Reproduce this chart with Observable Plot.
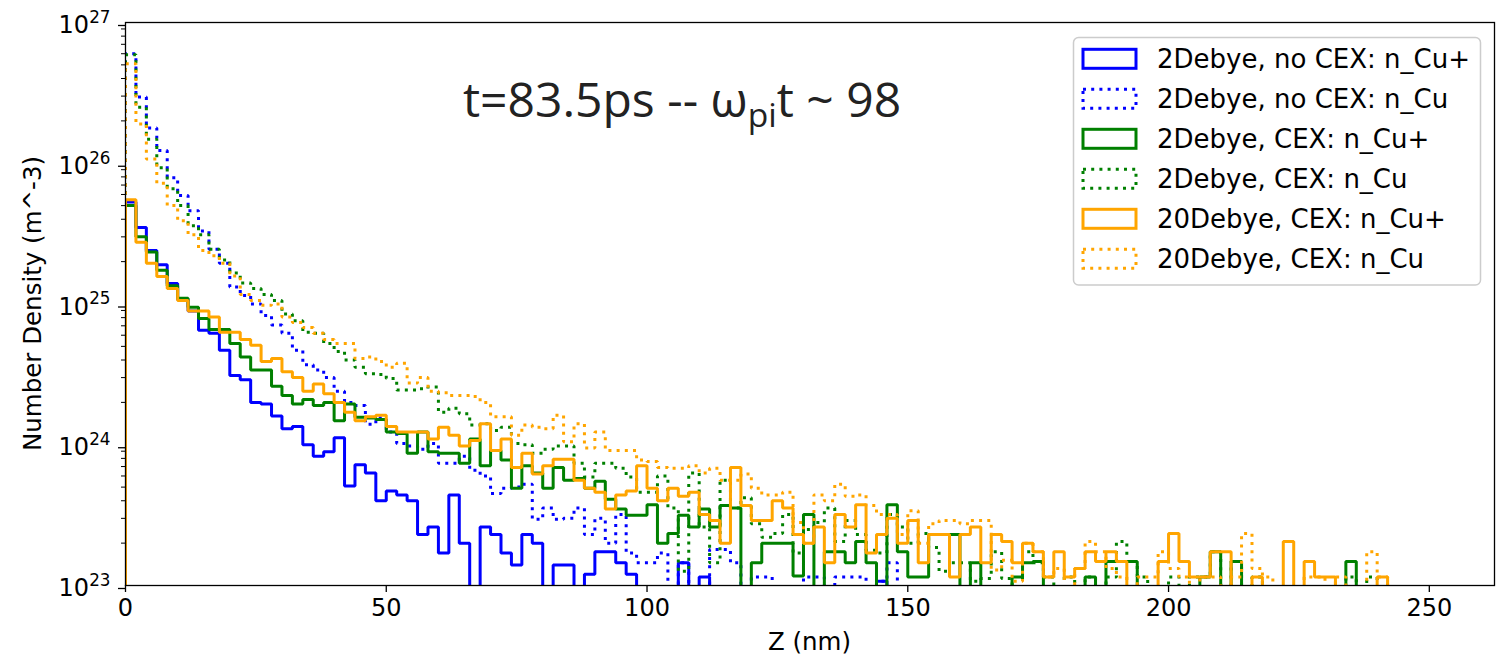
<!DOCTYPE html>
<html>
<head>
<meta charset="utf-8">
<script src="https://cdn.jsdelivr.net/npm/d3@7"></script>
<script src="https://cdn.jsdelivr.net/npm/@observablehq/plot@0.6"></script>
<style>
  html, body { margin: 0; padding: 0; background: #fff; }
  svg { display: block; }
</style>
</head>
<body>
<div id="chart"></div>
<script>
// ---------- data ----------
const binStart = 0;      // nm
const binWidth = 2;      // nm
const xTicks = [0, 50, 100, 150, 200, 250];
const yMajorTicks = [1e23, 1e24, 1e25, 1e26, 1e27];
const yMinorTicks = [2e23,3e23,4e23,5e23,6e23,7e23,8e23,9e23,
                     2e24,3e24,4e24,5e24,6e24,7e24,8e24,9e24,
                     2e25,3e25,4e25,5e25,6e25,7e25,8e25,9e25,
                     2e26,3e26,4e26,5e26,6e26,7e26,8e26,9e26];
const titleMain = "t=83.5ps -- ω";
const titleSub = "pi";
const titleEnd = "t ~ 98";
const xLabel = "Z (nm)";
const yLabel = "Number Density (m^-3)";

const labels = ["2Debye, no CEX: n_Cu+", "2Debye, no CEX: n_Cu", "2Debye, CEX: n_Cu+",
                "2Debye, CEX: n_Cu", "20Debye, CEX: n_Cu+", "20Debye, CEX: n_Cu"];

const nCuPlus_2D_noCEX = [
  5.3e25, 3.5e25, 2.4e25, 1.9e25, 1.4e25, 1.07e25, 8.9e24, 6.5e24, 6.2e24, 4.7e24,
  3.1e24, 2.9e24, 2.0e24, 1.95e24, 1.6e24, 1.3e24, 1.35e24, 1.0e24, 8.3e23, 8.9e23,
  1.12e24, 5.1e23, 7.2e23, 6.3e23, 4.0e23, 4.7e23, 4.4e23, 4.0e23, 2.3e23, 2.6e23,
  1.7e23, 4.4e23, 2.0e23, 0, 2.6e23, 2.3e23, 1.7e23, 1.4e23, 2.3e23, 2.0e23,
  0, 1.4e23, 1.4e23, 0, 1.2e23, 1.74e23, 1.74e23, 1.45e23, 1.2e23, 0,
  0, 0, 0, 1.45e23, 0, 1.15e23, 0, 0, 0, 0,
  0, 0, 0, 0, 0, 0, 0, 0, 0, 0,
  0, 0, 1.07e23
];
const nCu_2D_noCEX = [
  6.0e26, 2.95e26, 1.78e26, 1.23e26, 7.9e25, 5.9e25, 4.6e25, 3.3e25, 2.45e25, 1.95e25,
  1.32e25, 1.15e25, 1.0e25, 8.3e24, 7.1e24, 6.2e24, 4.7e24, 3.7e24, 3.4e24, 3.0e24,
  2.4e24, 2.0e24, 1.9e24, 1.4e24, 1.55e24, 1.23e24, 1.02e24, 9.8e23, 9.3e23, 1.02e24,
  7.4e23, 7.4e23, 8.3e23, 6.6e23, 6.0e23, 4.5e23, 4.9e23, 5.0e23, 5.25e23, 2.95e23,
  3.55e23, 2.95e23, 3.0e23, 3.55e23, 2.3e23, 3.0e23, 2.0e23, 3.2e23, 1.7e23, 1.45e23,
  1.45e23, 1.7e23, 0, 1.45e23, 0, 0, 1.8e23, 1.8e23, 1.45e23, 0,
  1.15e23, 1.15e23, 0, 0, 0, 1.15e23, 1.15e23, 0, 1.15e23, 1.15e23,
  1.15e23, 0, 1.07e23, 1.45e23
];
const nCuPlus_2D_CEX = [
  5.0e25, 3.0e25, 2.34e25, 1.74e25, 1.35e25, 1.1e25, 9.5e24, 7.9e24, 6.6e24, 6.6e24,
  5.25e24, 4.2e24, 3.4e24, 3.4e24, 2.6e24, 2.24e24, 1.95e24, 2.1e24, 1.9e24, 2.0e24,
  1.48e24, 1.95e24, 1.57e24, 1.55e24, 1.51e24, 1.23e24, 1.2e24, 8.7e23, 1.23e24, 8.9e23,
  8.7e23, 8.7e23, 7.4e23, 1.1e24, 7.1e23, 9.1e23, 7.8e23, 4.9e23, 7.1e23, 6.3e23,
  4.9e23, 6.9e23, 5.6e23, 5.75e23, 4.9e23, 5.5e23, 4.1e23, 3.5e23, 3.16e23, 3.16e23,
  3.75e23, 2.0e23, 2.34e23, 3.16e23, 2.6e23, 3.5e23, 2.6e23, 3.7e23, 3.55e23, 0,
  1.45e23, 2.0e23, 2.0e23, 2.0e23, 1.17e23, 3.2e23, 0, 1.74e23, 1.74e23, 1.45e23,
  2.05e23, 1.45e23, 0, 3.75e23, 1.74e23, 1.15e23, 1.15e23, 2.3e23, 2.3e23, 2.3e23,
  0, 1.45e23, 0, 0, 0, 1.15e23, 1.45e23, 1.48e23, 0, 0,
  0, 0, 1.15e23, 0, 1.48e23, 1.48e23, 1.48e23, 0, 0, 0,
  0, 0, 0, 1.15e23, 1.74e23, 0, 1.48e23, 0, 0, 0,
  0, 0, 0, 0, 0, 0, 0, 1.48e23
];
const nCu_2D_CEX = [
  5.9e26, 2.5e26, 1.48e26, 9.3e25, 6.6e25, 5.0e25, 3.6e25, 3.1e25, 2.45e25, 2.05e25,
  1.66e25, 1.41e25, 1.29e25, 1.17e25, 1.06e25, 8.5e24, 7.6e24, 6.3e24, 6.2e24, 5.25e24,
  4.6e24, 4.0e24, 3.55e24, 3.2e24, 3.16e24, 2.95e24, 2.45e24, 2.45e24, 2.5e24, 2.57e24,
  1.7e24, 1.82e24, 1.66e24, 1.38e24, 1.41e24, 1.26e24, 1.33e24, 1.02e24, 1.0e24, 8.7e23,
  9.3e23, 9.8e23, 9.8e23, 7.4e23, 5.9e23, 7.4e23, 7.4e23, 6.8e23, 5.9e23, 4.6e23,
  4.6e23, 6.0e23, 3.55e23, 1.26e23, 6.3e23, 2.6e23, 1.45e23, 5.6e23, 3.55e23, 4.2e23,
  2.75e23, 2.2e23, 2.34e23, 3.2e23, 1.7e23, 2.5e23, 2.8e23, 3.55e23, 2.05e23, 2.9e23,
  2.3e23, 1.78e23, 1.7e23, 3.2e23, 2.6e23, 2.0e23, 2.34e23, 1.86e23, 1.26e23, 1.45e23,
  1.45e23, 1.07e23, 1.12e23, 1.74e23, 1.12e23, 0, 1.74e23, 1.45e23, 1.15e23, 0,
  1.15e23, 0, 1.15e23, 0, 1.15e23, 2.05e23, 1.48e23, 1.15e23, 0, 0,
  1.15e23, 0, 1.15e23, 1.15e23, 1.74e23, 0, 1.48e23, 0, 1.15e23, 0,
  0, 0, 0, 0, 0, 0, 0, 1.15e23, 0, 1.15e23
];
const nCuPlus_20D_CEX = [
  5.5e25, 2.75e25, 1.95e25, 1.57e25, 1.29e25, 1.06e25, 8.9e24, 8.9e24, 8.1e24, 6.3e24,
  6.3e24, 5.6e24, 5.1e24, 3.9e24, 4.1e24, 3.3e24, 3.0e24, 2.4e24, 2.7e24, 2.3e24,
  2.0e24, 1.7e24, 1.48e24, 1.58e24, 1.62e24, 1.35e24, 1.23e24, 1.23e24, 1.23e24, 1.1e24,
  1.33e24, 1.17e24, 9.8e23, 1.07e24, 1.41e24, 9.1e23, 1.1e24, 6.9e23, 8.7e23, 6.2e23,
  7.1e23, 7.9e23, 7.9e23, 5.6e23, 4.9e23, 4.6e23, 3.5e23, 4.4e23, 4.7e23, 7.1e23,
  4.9e23, 4.0e23, 4.9e23, 4.3e23, 4.6e23, 3.2e23, 2.9e23, 2.0e23, 6.9e23, 3.7e23,
  2.9e23, 2.9e23, 4.0e23, 3.55e23, 2.3e23, 2.0e23, 2.6e23, 1.45e23, 3.2e23, 2.6e23,
  3.75e23, 1.7e23, 2.3e23, 3.0e23, 2.0e23, 2.9e23, 1.45e23, 2.3e23, 2.3e23, 1.15e23,
  2.3e23, 2.6e23, 1.45e23, 2.3e23, 2.05e23, 1.45e23, 2.0e23, 1.74e23, 1.15e23, 1.74e23,
  1.15e23, 1.32e23, 1.74e23, 1.48e23, 1.74e23, 1.48e23, 0, 0, 0, 1.48e23,
  2.34e23, 1.48e23, 1.15e23, 1.15e23, 1.74e23, 1.74e23, 0, 0, 1.15e23, 0,
  0, 2.05e23, 0, 1.48e23, 1.15e23, 1.15e23, 0, 0, 0, 0,
  1.15e23
];
const nCu_20D_CEX = [
  5.1e26, 1.9e26, 1.07e26, 7.2e25, 5.0e25, 3.9e25, 3.1e25, 2.4e25, 2.2e25, 1.95e25,
  1.58e25, 1.17e25, 1.06e25, 9.8e24, 1.0e25, 8.1e24, 7.4e24, 6.8e24, 6.2e24, 5.6e24,
  5.25e24, 5.25e24, 4.1e24, 4.2e24, 3.9e24, 3.55e24, 3.8e24, 2.75e24, 3.0e24, 2.4e24,
  2.34e24, 2.24e24, 2.24e24, 2.2e24, 2.0e24, 1.58e24, 1.58e24, 1.17e24, 1.38e24, 1.33e24,
  1.3e24, 1.62e24, 1.05e24, 1.41e24, 9.5e23, 1.23e24, 9.1e23, 9.1e23, 9.1e23, 7.8e23,
  7.6e23, 6.9e23, 6.8e23, 6.8e23, 7.1e23, 6.3e23, 6.8e23, 5.6e23, 5.6e23, 6.2e23,
  4.9e23, 4.4e23, 4.4e23, 4.6e23, 2.8e23, 2.0e23, 4.4e23, 4.0e23, 5.25e23, 4.3e23,
  4.4e23, 3.7e23, 3.2e23, 3.2e23, 2.3e23, 3.4e23, 2.0e23, 2.75e23, 2.9e23, 2.9e23,
  2.75e23, 2.9e23, 2.9e23, 1.29e23, 1.51e23, 1.07e23, 2.0e23, 1.74e23, 1.15e23, 1.32e23,
  0, 1.32e23, 2.05e23, 1.74e23, 1.32e23, 1.15e23, 0, 1.15e23, 1.15e23, 1.74e23,
  1.32e23, 1.15e23, 0, 1.15e23, 1.15e23, 0, 1.15e23, 2.34e23, 1.32e23, 1.15e23,
  0, 0, 0, 1.15e23, 1.15e23, 0, 1.15e23, 0, 0, 1.74e23,
  1.15e23
];

// ---------- series styling ----------
const series = [
  {label: labels[0], values: nCuPlus_2D_noCEX, color: "#0000ff", dotted: false},
  {label: labels[1], values: nCu_2D_noCEX,     color: "#0000ff", dotted: true},
  {label: labels[2], values: nCuPlus_2D_CEX,   color: "#008000", dotted: false},
  {label: labels[3], values: nCu_2D_CEX,       color: "#008000", dotted: true},
  {label: labels[4], values: nCuPlus_20D_CEX,  color: "#ffa500", dotted: false},
  {label: labels[5], values: nCu_20D_CEX,      color: "#ffa500", dotted: true}
];

const FLOOR = 1e21; // empty bins fall below the axis and are clipped
function outline(s) {
  const pts = [{x: binStart, y: FLOOR}];
  s.values.forEach((v, i) => pts.push({x: binStart + i * binWidth, y: v > 0 ? v : FLOOR}));
  pts.push({x: binStart + s.values.length * binWidth, y: FLOOR});
  return pts;
}

const DASH = "3,5.2";
const LW = 3;

const chart = Plot.plot({
  width: 1506,
  height: 656,
  marginLeft: 125,
  marginRight: 12,
  marginTop: 22,
  marginBottom: 71,
  style: {fontFamily: "DejaVu Sans", fontSize: "24px", background: "#fff", color: "#000"},
  x: {domain: [0, 262.5]},
  y: {type: "log", domain: [1e23, 1e27]},
  marks: [
    ...series.map(s => Plot.line(outline(s), {
      x: "x", y: "y", curve: "step-after", clip: true,
      stroke: s.color, strokeWidth: LW,
      strokeDasharray: s.dotted ? DASH : null,
      strokeLinecap: "butt", strokeLinejoin: "miter"
    })),
    Plot.frame({stroke: "#000", strokeWidth: 1.3}),
    Plot.axisX({ticks: xTicks, tickSize: 7, tickPadding: 6, fontSize: 24, label: null, strokeWidth: 1.3}),
    Plot.axisY({ticks: yMajorTicks, tickSize: 7, tickPadding: 8, fontSize: 24, label: null, strokeWidth: 1.3, dy: 3,
                tickFormat: d => "10^" + Math.round(Math.log10(d))}),
    Plot.axisY({ticks: yMinorTicks, tickSize: 4, tickFormat: () => "", label: null, strokeWidth: 1})
  ]
});

document.getElementById("chart").appendChild(chart);

// ---------- post-processing: superscripts, labels, title, legend ----------
const svg = d3.select(chart);
svg.selectAll("text").each(function () {
  const m = /^10\^(\d+)$/.exec(this.textContent);
  if (m) {
    const t = d3.select(this);
    t.text(null);
    t.append("tspan").text("10");
    t.append("tspan").attr("dy", "-0.62em").attr("font-size", "0.7em").text(m[1]);
  }
});

const xScale = chart.scale("x"), yScale = chart.scale("y");
const frameLeft = xScale.range[0], frameRight = xScale.range[1];
const frameTop = yScale.range[1], frameBottom = yScale.range[0];

svg.append("text")
  .attr("x", (frameLeft + frameRight) / 2).attr("y", 650)
  .attr("text-anchor", "middle").attr("font-family", "DejaVu Sans").attr("font-size", 24.5)
  .attr("fill", "#000").text(xLabel);

svg.append("text")
  .attr("transform", `translate(41,${(frameTop + frameBottom) / 2}) rotate(-90)`)
  .attr("text-anchor", "middle").attr("font-family", "DejaVu Sans").attr("font-size", 24.5)
  .attr("fill", "#000").text(yLabel);

const title = svg.append("text")
  .attr("x", 463).attr("y", 117).attr("text-anchor", "start")
  .attr("font-family", "Open Sans").attr("font-size", 48).attr("fill", "#222");
title.append("tspan").text(titleMain);
title.append("tspan").attr("dy", "0.3em").attr("font-size", "0.7em").text(titleSub);
title.append("tspan").attr("dy", "-0.21em").text(titleEnd);

// legend
const lg = svg.append("g");
lg.append("rect")
  .attr("x", 1073.5).attr("y", 37.5).attr("width", 407).attr("height", 247.5)
  .attr("rx", 5).attr("fill", "#fff").attr("fill-opacity", 0.8)
  .attr("stroke", "#cccccc").attr("stroke-width", 1.5);
series.forEach((s, i) => {
  const cy = 58.8 + 40 * i;
  lg.append("rect")
    .attr("x", 1083).attr("y", cy - 9.5).attr("width", 53).attr("height", 19)
    .attr("fill", "none").attr("stroke", s.color).attr("stroke-width", LW)
    .attr("stroke-dasharray", s.dotted ? DASH : null);
  lg.append("text")
    .attr("x", 1157).attr("y", cy + 9.5).attr("text-anchor", "start")
    .attr("font-family", "DejaVu Sans").attr("font-size", 26).attr("fill", "#000")
    .text(s.label);
});
</script>
</body>
</html>
